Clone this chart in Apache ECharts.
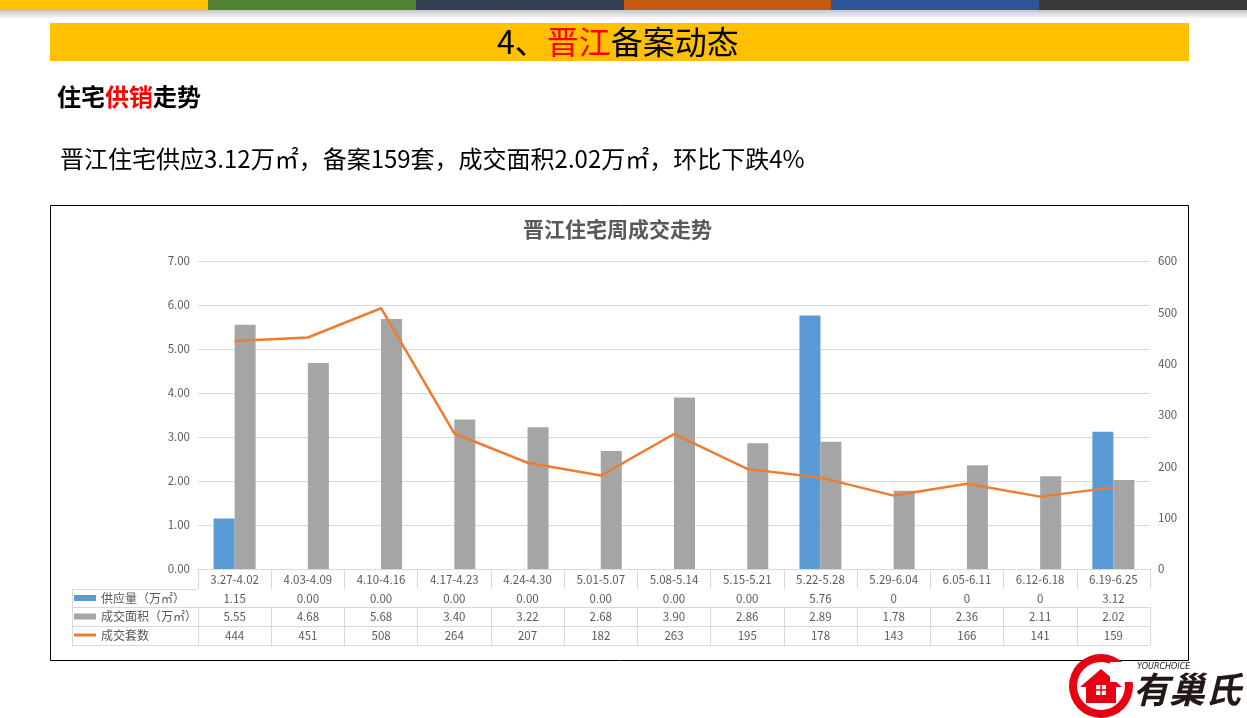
<!DOCTYPE html>
<html>
<head>
<meta charset="utf-8">
<script src="https://cdn.jsdelivr.net/npm/echarts@6/dist/echarts.min.js"></script>
<style>
html,body{margin:0;padding:0;background:#fff;}
#c{width:1247px;height:718px;}
</style>
</head>
<body>
<div id="c"></div>
<script>
// ---- data ----
const weeks = ['3.27-4.02','4.03-4.09','4.10-4.16','4.17-4.23','4.24-4.30','5.01-5.07','5.08-5.14','5.15-5.21','5.22-5.28','5.29-6.04','6.05-6.11','6.12-6.18','6.19-6.25'];
const supplyText = ['1.15','0.00','0.00','0.00','0.00','0.00','0.00','0.00','5.76','0','0','0','3.12'];
const supply = supplyText.map(Number);
const area = [5.55,4.68,5.68,3.40,3.22,2.68,3.90,2.86,2.89,1.78,2.36,2.11,2.02];
const units = [444,451,508,264,207,182,263,195,178,143,166,141,159];
const leftTicks = [0,7,1];   // min, max, interval (万㎡)
const rightTicks = [0,600,100]; // min, max, interval (套)
const seriesNames = ['供应量（万㎡）','成交面积（万㎡）','成交套数'];

const FONT = '"Noto Sans CJK SC", "Noto Sans", sans-serif';
const TXT = '#595959';
const LINE = '#D9D9D9';

const chart = echarts.init(document.getElementById('c'), null, {renderer:'canvas'});

const stripeColors = ['#FFC000','#548235','#333F50','#C55A11','#2F5597','#3A3A3A'];
const graphics = [];
stripeColors.forEach((c,i)=>{
  graphics.push({type:'rect', shape:{x:Math.round(i*1247/6), y:0, width:Math.ceil(1247/6)+1, height:10}, style:{fill:c}, silent:true});
});
graphics.push({type:'rect', shape:{x:0,y:10,width:1247,height:9}, style:{fill:new echarts.graphic.LinearGradient(0,0,0,1,[{offset:0,color:'#c4c4c4'},{offset:1,color:'#ffffff'}])}, silent:true});
graphics.push({type:'rect', shape:{x:50,y:23,width:1139,height:38}, style:{fill:'#FFC000'}, silent:true, z:-1});
graphics.push({type:'rect', shape:{x:50.5,y:205.5,width:1138,height:455}, style:{fill:'none', stroke:'#000', lineWidth:1}, silent:true});
// table label column lines
[589,607,626,645].forEach(y=>{
  graphics.push({type:'line', shape:{x1:72,y1:y+0.5,x2:198,y2:y+0.5}, style:{stroke:LINE,lineWidth:1}, silent:true});
});
graphics.push({type:'line', shape:{x1:72.5,y1:589,x2:72.5,y2:645}, style:{stroke:LINE,lineWidth:1}, silent:true});
// logo
graphics.push({type:'ring', shape:{cx:1101,cy:686,r:32,r0:24}, style:{fill:'#E60012'}, silent:true});
graphics.push({type:'polygon', shape:{points:[[1080,687],[1101,669],[1122,687],[1116,687],[1116,703],[1086,703],[1086,687]]}, style:{fill:'#E60012'}, silent:true});
graphics.push({type:'rect', shape:{x:1096,y:685,width:10,height:10}, style:{fill:'#fff'}, silent:true});
graphics.push({type:'line', shape:{x1:1101,y1:685,x2:1101,y2:695}, style:{stroke:'#E60012',lineWidth:1.5}, silent:true});
graphics.push({type:'line', shape:{x1:1096,y1:690,x2:1106,y2:690}, style:{stroke:'#E60012',lineWidth:1.5}, silent:true});
graphics.push({type:'rect', shape:{x:1110,y:662,width:28,height:20}, style:{fill:'#fff'}, silent:true});
graphics.push({type:'text', x:1137, y:663, style:{text:'YOURCHOICE', fontSize:8, fontStyle:'italic', fontFamily:'"DejaVu Sans"', fill:'#231815'}, silent:true});
graphics.push({type:'text', x:1133, y:671, style:{text:'有巢氏', fontSize:36, fontStyle:'italic', fontWeight:'bold', fontFamily:'"Noto Sans CJK SC"', fill:'#231815'}, silent:true});

const axisBase = (data, offset, tickLen, showLabel, margin) => ({
  type:'category', data:data, position:'bottom', offset:offset,
  axisLine:{show:true, lineStyle:{color: offset===0 ? '#BFBFBF' : LINE, width:1}},
  axisTick:{show: tickLen>0, length:tickLen, interval:0, alignWithLabel:false, lineStyle:{color:LINE}},
  axisLabel:{show:showLabel, interval:0, color:TXT, fontSize:11.5, fontFamily:FONT, margin:margin},
  splitLine:{show:false}
});

const option = {
  animation:false,
  backgroundColor:'#fff',
  textStyle:{fontFamily:FONT},
  title:[
    {text:'4、{r|晋江}备案动态', left:497, top:24, padding:0,
     textStyle:{fontSize:32, fontWeight:'normal', color:'#000', fontFamily:FONT, lineHeight:36,
       rich:{r:{fontSize:32, color:'#FF0000', fontFamily:FONT, lineHeight:36}}}},
    {text:'住宅{r|供销}走势', left:57, top:83, padding:0,
     textStyle:{fontSize:24, fontWeight:'bold', color:'#000', fontFamily:FONT, lineHeight:28,
       rich:{r:{fontSize:24, fontWeight:'bold', color:'#FF0000', fontFamily:FONT, lineHeight:28}}}},
    {text:'晋江住宅供应3.12万㎡，备案159套，成交面积2.02万㎡，环比下跌4%', left:60, top:145, padding:0,
     textStyle:{fontSize:24, fontWeight:'normal', color:'#000', fontFamily:FONT, lineHeight:28}},
    {text:'晋江住宅周成交走势', left:523, top:217, padding:0,
     textStyle:{fontSize:21, fontWeight:'bold', color:TXT, fontFamily:FONT, lineHeight:24}}
  ],
  legend:{
    orient:'vertical', left:74, top:591, padding:0, itemGap:4.5, itemWidth:22, itemHeight:6,
    selectedMode:false,
    textStyle:{fontSize:12, color:TXT, fontFamily:FONT, lineHeight:14},
    data:[
      {name:seriesNames[0], icon:'rect'},
      {name:seriesNames[1], icon:'rect'},
      {name:seriesNames[2], icon:'path://M0,0H22V3H0Z'}
    ]
  },
  grid:{left:198, right:97, top:261, bottom:149, containLabel:false},
  xAxis:[
    axisBase(weeks, 0, 20, true, 5),
    axisBase(supplyText, 20, 18, true, 4),
    axisBase(area.map(v=>v.toFixed(2)), 38, 19, true, 4),
    axisBase(units.map(String), 57, 19, true, 4),
    axisBase(weeks, 76, 0, false, 4)
  ],
  yAxis:[
    {type:'value', min:leftTicks[0], max:leftTicks[1], interval:leftTicks[2],
     axisLine:{show:false}, axisTick:{show:false},
     axisLabel:{color:TXT, fontSize:11.5, fontFamily:FONT, margin:8, formatter:v=>v.toFixed(2)},
     splitLine:{show:true, lineStyle:{color:LINE, width:1}}},
    {type:'value', min:rightTicks[0], max:rightTicks[1], interval:rightTicks[2], position:'right',
     axisLine:{show:false}, axisTick:{show:false},
     axisLabel:{color:TXT, fontSize:11.5, fontFamily:FONT, margin:8},
     splitLine:{show:false}}
  ],
  graphic:graphics,
  series:[
    {name:seriesNames[0], type:'bar', data:supply, barWidth:21, barGap:'0%', itemStyle:{color:'#5B9BD5'}, xAxisIndex:0, yAxisIndex:0},
    {name:seriesNames[1], type:'bar', data:area, barWidth:21, barGap:'0%', itemStyle:{color:'#A5A5A5'}, xAxisIndex:0, yAxisIndex:0},
    {name:seriesNames[2], type:'line', data:units, xAxisIndex:0, yAxisIndex:1, symbol:'none', smooth:false,
     lineStyle:{color:'#ED7D31', width:2.5}, itemStyle:{color:'#ED7D31'}, z:5}
  ]
};
chart.setOption(option);
</script>
</body>
</html>
